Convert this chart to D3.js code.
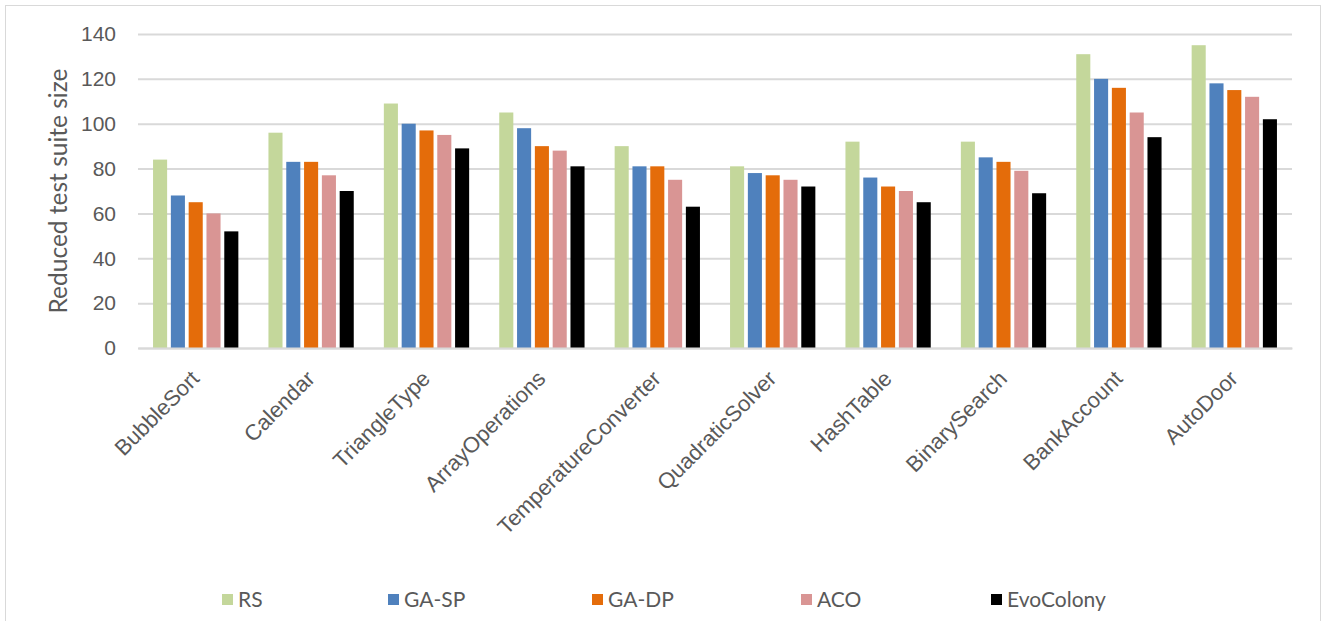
<!DOCTYPE html>
<html>
<head>
<meta charset="utf-8">
<script src="https://cdn.jsdelivr.net/npm/d3@7"></script>
<style>
  html, body { margin: 0; padding: 0; background: #fff; }
  svg { display: block; font-family: Lato, "Open Sans", "Liberation Sans", sans-serif; }
</style>
</head>
<body>
<svg id="chart" width="1325" height="621"></svg>
<script>
// Programs under test
const categories = ["BubbleSort", "Calendar", "TriangleType", "ArrayOperations",
  "TemperatureConverter", "QuadraticSolver", "HashTable", "BinarySearch",
  "BankAccount", "AutoDoor"];

// Reduced test suite size per technique
const seriesNames = ["RS", "GA-SP", "GA-DP", "ACO", "EvoColony"];
const rs        = [84, 96, 109, 105, 90, 81, 92, 92, 131, 135];
const gaSp      = [68, 83, 100, 98, 81, 78, 76, 85, 120, 118];
const gaDp      = [65, 83, 97, 90, 81, 77, 72, 83, 116, 115];
const aco       = [60, 77, 95, 88, 75, 75, 70, 79, 105, 112];
const evoColony = [52, 70, 89, 81, 63, 72, 65, 69, 94, 102];
const seriesColors = ["#C4D79B", "#4F81BD", "#E46C0A", "#D99594", "#000000"];
const yTicks = [0, 20, 40, 60, 80, 100, 120, 140];

const seriesValues = [rs, gaSp, gaDp, aco, evoColony];
const rows = categories.map((c, i) => ({
  category: c,
  values: seriesNames.map((s, j) => ({ series: s, value: seriesValues[j][i], color: seriesColors[j] }))
}));

const svg = d3.select("#chart");
const plot = { left: 138, right: 1292, top: 34, bottom: 348 };
const textColor = "#595959";

// chart frame
svg.append("rect")
  .attr("x", 5.5).attr("y", 5.5)
  .attr("width", 1315).attr("height", 640)
  .attr("fill", "none").attr("stroke", "#d9d9d9").attr("stroke-width", 1);

const x0 = d3.scaleBand().domain(categories).range([plot.left, plot.right]).paddingInner(0).paddingOuter(0);
const groupWidth = x0.bandwidth() * 0.77;
const x1 = d3.scaleBand().domain(seriesNames)
  .range([(x0.bandwidth() - groupWidth) / 2, (x0.bandwidth() + groupWidth) / 2])
  .paddingInner(0.21).paddingOuter(0.1);
const y = d3.scaleLinear().domain([0, 140]).range([plot.bottom, plot.top]);

// gridlines + y tick labels
const yAxis = d3.axisLeft(y).tickValues(yTicks).tickSize(-(plot.right - plot.left)).tickPadding(22);
const gy = svg.append("g").attr("transform", `translate(${plot.left},0)`).call(yAxis);
gy.select(".domain").remove();
gy.selectAll(".tick line").attr("stroke", "#d9d9d9").attr("stroke-width", 2);
gy.selectAll(".tick text").attr("fill", textColor).attr("font-size", 21);

// bars
const groups = svg.append("g").selectAll("g").data(rows).join("g")
  .attr("transform", d => `translate(${x0(d.category)},0)`);
groups.selectAll("rect").data(d => d.values).join("rect")
  .attr("x", d => x1(d.series))
  .attr("width", x1.bandwidth())
  .attr("y", d => y(d.value))
  .attr("height", d => y(0) - y(d.value))
  .attr("fill", d => d.color);

// category axis
const xAxis = d3.axisBottom(x0).tickSize(0).tickPadding(0);
const gx = svg.append("g").attr("transform", `translate(0,${plot.bottom})`).call(xAxis);
gx.select(".domain").attr("stroke", "#d9d9d9").attr("stroke-width", 2);
gx.selectAll(".tick text")
  .attr("fill", textColor).attr("font-size", 22)
  .attr("text-anchor", "end")
  .attr("dy", 0)
  .attr("transform", "translate(5,32) rotate(-45)");

// y axis title
svg.append("text")
  .attr("transform", `translate(67,${(plot.top + plot.bottom) / 2}) rotate(-90)`)
  .attr("text-anchor", "middle")
  .attr("fill", textColor).attr("font-size", 24.5)
  .text("Reduced test suite size");

// legend
const legendX = [222, 388, 592, 801, 991];
const legend = svg.append("g").selectAll("g").data(seriesNames).join("g")
  .attr("transform", (d, i) => `translate(${legendX[i]},600)`);
legend.append("rect").attr("x", 0).attr("y", -6).attr("width", 11).attr("height", 11)
  .attr("fill", (d, i) => seriesColors[i]);
legend.append("text").attr("x", 16).attr("dy", "0.35em")
  .attr("fill", textColor).attr("font-size", 21)
  .text(d => d);
</script>
</body>
</html>
